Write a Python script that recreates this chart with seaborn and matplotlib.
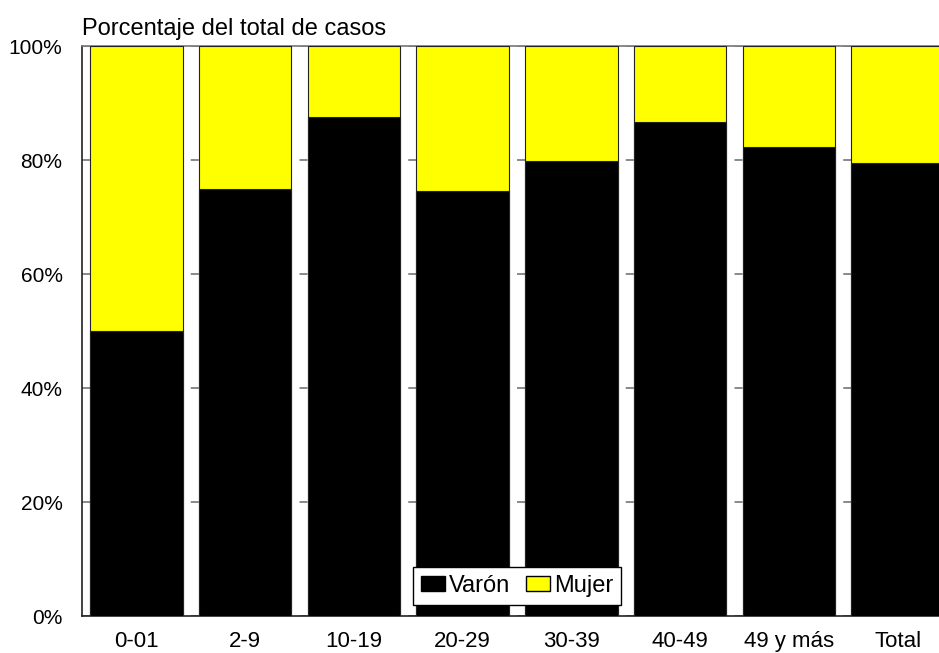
import matplotlib
matplotlib.use("Agg")
import matplotlib.pyplot as plt
import seaborn as sns
import pandas as pd
from matplotlib.patches import Patch

# datos (porcentaje de varones por grupo de edad)
grupos = ["0-01", "2-9", "10-19", "20-29", "30-39", "40-49", "49 y más", "Total"]
varon = [50.0, 75.0, 87.5, 74.6, 79.9, 86.7, 82.2, 79.4]
mujer = [100 - v for v in varon]
ytick_vals = [0, 20, 40, 60, 80, 100]
ytick_labels = ["0%", "20%", "40%", "60%", "80%", "100%"]

df = pd.DataFrame({"grupo": grupos, "varon": varon, "mujer": mujer})
df["total"] = df["varon"] + df["mujer"]

sns.set_style("white")
plt.rcParams["font.family"] = ["Liberation Sans", "DejaVu Sans"]
plt.rcParams["lines.scale_dashes"] = False
plt.rcParams["text.color"] = "black"
plt.rcParams["xtick.color"] = "black"
plt.rcParams["ytick.color"] = "black"

fig = plt.figure(figsize=(9.39, 6.53), dpi=100)
ax = fig.add_axes([82 / 939, 37 / 653, 870 / 939, 570 / 653])

# barra completa (amarilla) y encima la parte de varones (negra)
sns.barplot(data=df, x="grupo", y="total", color="#ffff00", saturation=1,
            width=0.85, edgecolor="#222222", linewidth=0.8, ax=ax, zorder=3)
sns.barplot(data=df, x="grupo", y="varon", color="#000000", saturation=1,
            width=0.85, edgecolor="#222222", linewidth=0.8, ax=ax, zorder=3)

ax.set_ylim(0, 100)
ax.set_xlim(-0.5, len(grupos) - 0.5)
ax.set_yticks(ytick_vals)
ax.set_yticklabels(ytick_labels)
ax.set_xlabel("")
ax.set_ylabel("")
ax.tick_params(axis="y", length=0, pad=14, labelsize=15, labelcolor="black")
ax.tick_params(axis="x", length=0, pad=11, labelsize=16, labelcolor="black")

# lineas de grilla grises que solo asoman entre barras
ax.yaxis.grid(True, color="#808080", linewidth=1.3,
              linestyle=(0, (5.8, 72.5)), zorder=0)
ax.set_axisbelow(True)

for s in ["left", "bottom"]:
    ax.spines[s].set_color("#222222")
    ax.spines[s].set_linewidth(1.2)
ax.spines["top"].set_color("#777777")
ax.spines["top"].set_linewidth(1.2)
ax.spines["right"].set_visible(False)

ax.text(0.0, 1.01, "Porcentaje del total de casos", transform=ax.transAxes,
        ha="left", va="bottom", fontsize=17, color="black")

handles = [Patch(facecolor="#000000", edgecolor="#000000", label="Varón"),
           Patch(facecolor="#ffff00", edgecolor="#000000", label="Mujer")]
leg = ax.legend(handles=handles, ncol=2, loc="lower center",
                bbox_to_anchor=(0.5, 0.019), fontsize=17, frameon=True,
                fancybox=False, shadow=False, handlelength=1.0,
                handleheight=0.65, handletextpad=0.17, columnspacing=0.68,
                borderpad=0.35, borderaxespad=0, framealpha=1)
leg.get_frame().set_edgecolor("#000000")
leg.get_frame().set_facecolor("white")
leg.get_frame().set_linewidth(1.0)
for t in leg.get_texts():
    t.set_color("black")
leg.set_zorder(5)

fig.savefig("out.png", dpi=100)
